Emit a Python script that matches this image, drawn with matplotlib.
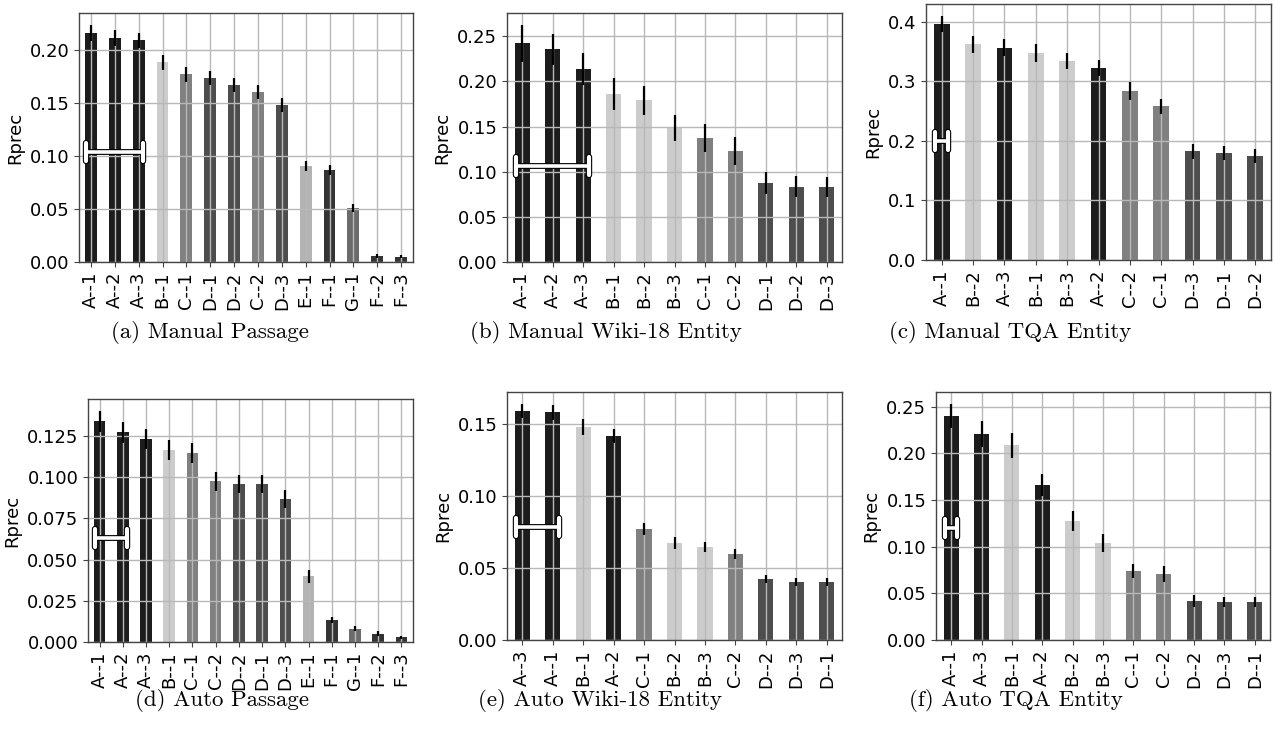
import matplotlib
matplotlib.use("Agg")
import matplotlib.pyplot as plt
from matplotlib.markers import MarkerStyle
from matplotlib.ticker import MultipleLocator

# ---------------- data ----------------
labels_a = ["A--1", "A--2", "A--3", "B--1", "C--1", "D--1", "D--2", "C--2", "D--3", "E--1", "F--1", "G--1", "F--2", "F--3"]
values_a = [0.2157, 0.2110, 0.2090, 0.1884, 0.1771, 0.1734, 0.1668, 0.1602, 0.1480, 0.0906, 0.0868, 0.0508, 0.0060, 0.0050]
errors_a = [0.0078, 0.0075, 0.0070, 0.0070, 0.0070, 0.0067, 0.0067, 0.0067, 0.0065, 0.0045, 0.0045, 0.0035, 0.0020, 0.0015]

labels_b = ["A--1", "A--2", "A--3", "B--1", "B--2", "B--3", "C--1", "C--2", "D--1", "D--2", "D--3"]
values_b = [0.2423, 0.2356, 0.2135, 0.1860, 0.1793, 0.1487, 0.1373, 0.1230, 0.0876, 0.0832, 0.0832]
errors_b = [0.0203, 0.0173, 0.0180, 0.0180, 0.0160, 0.0145, 0.0153, 0.0155, 0.0122, 0.0116, 0.0110]

labels_c = ["A--1", "B--2", "A--3", "B--1", "B--3", "A--2", "C--2", "C--1", "D--3", "D--1", "D--2"]
values_c = [0.3960, 0.3624, 0.3568, 0.3473, 0.3338, 0.3220, 0.2833, 0.2580, 0.1823, 0.1790, 0.1740]
errors_c = [0.0135, 0.0140, 0.0140, 0.0150, 0.0135, 0.0137, 0.0149, 0.0126, 0.0120, 0.0118, 0.0118]

labels_d = ["A--1", "A--2", "A--3", "B--1", "C--1", "C--2", "D--2", "D--1", "D--3", "E--1", "F--1", "G--1", "F--2", "F--3"]
values_d = [0.1339, 0.1274, 0.1232, 0.1165, 0.1146, 0.0976, 0.0958, 0.0958, 0.0866, 0.0398, 0.0136, 0.0081, 0.0051, 0.0028]
errors_d = [0.0066, 0.0064, 0.0060, 0.0060, 0.0060, 0.0057, 0.0056, 0.0056, 0.0054, 0.0039, 0.0018, 0.0016, 0.0014, 0.0010]

labels_e = ["A--3", "A--1", "B--1", "A--2", "C--1", "B--2", "B--3", "C--2", "D--2", "D--3", "D--1"]
values_e = [0.1593, 0.1586, 0.1482, 0.1419, 0.0772, 0.0675, 0.0647, 0.0598, 0.0424, 0.0403, 0.0403]
errors_e = [0.0051, 0.0053, 0.0054, 0.0051, 0.0040, 0.0040, 0.0037, 0.0033, 0.0028, 0.0027, 0.0026]

labels_f = ["A--1", "A--3", "B--1", "A--2", "B--2", "B--3", "C--1", "C--2", "D--2", "D--3", "D--1"]
values_f = [0.2400, 0.2207, 0.2089, 0.1661, 0.1275, 0.1039, 0.0739, 0.0707, 0.0418, 0.0407, 0.0407]
errors_f = [0.0132, 0.0140, 0.0134, 0.0121, 0.0104, 0.0100, 0.0079, 0.0089, 0.0060, 0.0055, 0.0055]

captions = ["(a) Manual Passage", "(b) Manual Wiki-18 Entity", "(c) Manual TQA Entity",
            "(d) Auto Passage", "(e) Auto Wiki-18 Entity", "(f) Auto TQA Entity"]

# top group (not significantly different) marker: last index of group and y level
group_last = [2, 2, 0, 1, 1, 0]
group_y = [0.104, 0.1067, 0.200, 0.0632, 0.079, 0.1196]

ytick_step = [0.05, 0.05, 0.1, 0.025, 0.05, 0.05]

# ---------------- style ----------------
system_colors = {"A": "#1c1c1c", "B": "#cccccc", "C": "#808080", "D": "#4d4d4d",
                 "E": "#b3b3b3", "F": "#333333", "G": "#6b6b6b"}

W, H = 1274, 731
fig = plt.figure(figsize=(W / 100, H / 100), dpi=100)

# axes boxes in pixels: left, right, top, bottom
boxes = [(79, 413, 13, 262), (507, 842, 13, 262), (926, 1271, 4, 260),
         (88, 413, 399, 642), (507, 842, 392, 640), (936, 1270, 392, 640)]
caption_pos = [(210, 332), (606, 332), (1010, 332), (222, 700), (600, 700), (1016, 700)]

datasets = [(labels_a, values_a, errors_a), (labels_b, values_b, errors_b),
            (labels_c, values_c, errors_c), (labels_d, values_d, errors_d),
            (labels_e, values_e, errors_e), (labels_f, values_f, errors_f)]

cap_black = MarkerStyle("|", capstyle="round")
cap_white = MarkerStyle("|", capstyle="round")

for i, ((labs, vals, errs), (l, r, t, b)) in enumerate(zip(datasets, boxes)):
    ax = fig.add_axes([l / W, (H - b) / H, (r - l) / W, (b - t) / H])
    x = list(range(len(labs)))
    colors = [system_colors[s[0]] for s in labs]
    ax.bar(x, vals, width=0.5, color=colors, zorder=1,
           yerr=errs, error_kw=dict(ecolor="black", elinewidth=1.6, capsize=0, zorder=3))
    ax.set_axisbelow("line")
    ax.grid(True, color="#b8b8b8", linewidth=1.0, zorder=1.5)
    ax.set_xlim(-0.5, len(labs) - 0.5)
    ax.set_ylim(bottom=0)
    ax.yaxis.set_major_locator(MultipleLocator(ytick_step[i]))
    ax.set_xticks(x)
    ax.set_xticklabels(labs, rotation=90)
    ax.tick_params(labelsize=13, color="#444444")
    ax.set_ylabel("Rprec", fontsize=13)
    for sp in ax.spines.values():
        sp.set_color("#444444")
        sp.set_linewidth(1.0)

    # group marker
    x0 = x[0] - 0.2
    x1 = x[group_last[i]] + 0.2
    y = group_y[i]
    ax.plot([x0, x1], [y, y], color="black", lw=4.2, solid_capstyle="butt", zorder=5)
    ax.plot([x0, x1], [y, y], ls="none", marker=cap_black, ms=12.8, mew=4.6,
            color="black", zorder=5)
    ax.plot([x0, x1], [y, y], color="white", lw=2.6, solid_capstyle="butt", zorder=6)
    ax.plot([x0, x1], [y, y], ls="none", marker=cap_white, ms=12.8, mew=3.0,
            color="white", zorder=6)

    cx, cy = caption_pos[i]
    fig.text(cx / W, 1 - cy / H, captions[i], ha="center", va="center",
             fontsize=16.5, family="cmr10")

fig.savefig("out.png", dpi=100)
